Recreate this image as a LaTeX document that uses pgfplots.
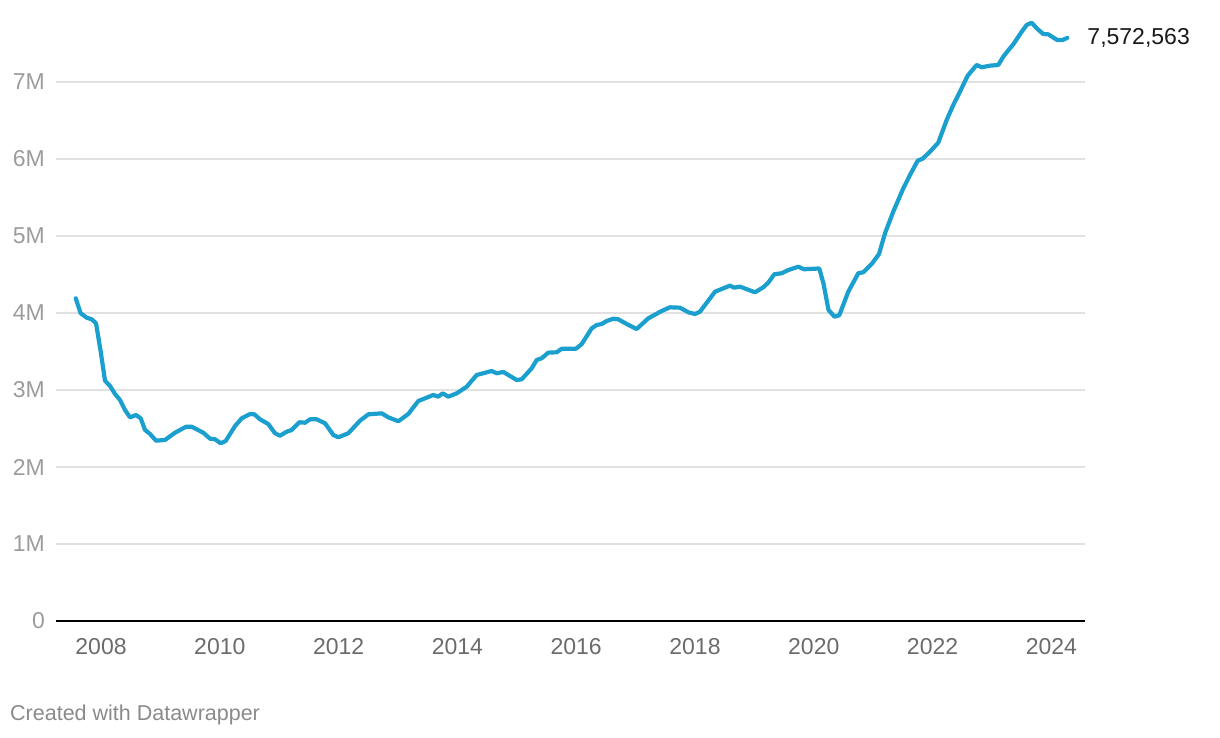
\documentclass[border=0pt]{standalone}
\usepackage{pgfplots}
\pgfplotsset{compat=1.18}
\usepackage{fontspec}
\setmainfont{Liberation Sans}
\definecolor{linec}{HTML}{1A9FCE}
\definecolor{ylab}{HTML}{9C9C9C}
\definecolor{xlab}{HTML}{6B6B6B}
\definecolor{gridc}{HTML}{E1E1E1}
\definecolor{foot}{HTML}{8A8A8A}
\begin{document}
\begin{tikzpicture}
\useasboundingbox (0,0) rectangle (1220pt,738pt);
\begin{axis}[
  at={(56pt,117pt)}, anchor=south west,
  scale only axis, width=1029pt, height=600.6pt,
  xmin=2007.242, xmax=2024.566, ymin=0, ymax=7.8,
  clip=false,
  axis x line=bottom, axis y line=left,
  x axis line style={-, black, line width=2.2pt},
  y axis line style={draw=none},
  major tick length=0pt, tick style={draw=none},
  xtick={2008,2010,2012,2014,2016,2018,2020,2022,2024},
  xticklabels={2008,2010,2012,2014,2016,2018,2020,2022,2024},
  ytick={0,1,2,3,4,5,6,7},
  yticklabels={0,1M,2M,3M,4M,5M,6M,7M},
  ymajorgrids, grid style={gridc, line width=1.6pt},
  xticklabel style={font=\fontsize{23}{27}\selectfont, color=xlab, anchor=north, inner sep=0pt, yshift=-17pt},
  yticklabel style={font=\fontsize{23}{27}\selectfont, color=ylab, anchor=east, inner sep=0pt, xshift=-11pt},
]
\addplot[linec, line width=4.2pt, line join=round, line cap=round] coordinates {
(2007.574,4.191)(2007.658,3.996)(2007.759,3.939)(2007.843,3.918)(2007.916,3.866)
(2007.995,3.497)(2008.067,3.121)(2008.152,3.052)(2008.236,2.948)(2008.320,2.870)
(2008.404,2.740)(2008.488,2.645)(2008.589,2.675)(2008.668,2.632)(2008.741,2.481)
(2008.825,2.429)(2008.926,2.342)(2009.077,2.351)(2009.246,2.445)(2009.431,2.523)
(2009.527,2.523)(2009.722,2.445)(2009.835,2.368)(2009.919,2.360)(2010.015,2.308)
(2010.099,2.338)(2010.256,2.532)(2010.369,2.632)(2010.508,2.688)(2010.581,2.684)
(2010.677,2.619)(2010.816,2.558)(2010.929,2.438)(2011.013,2.406)(2011.126,2.458)
(2011.210,2.481)(2011.338,2.581)(2011.434,2.575)(2011.519,2.619)(2011.631,2.619)
(2011.771,2.568)(2011.911,2.416)(2011.995,2.386)(2012.163,2.438)(2012.360,2.601)
(2012.500,2.684)(2012.726,2.697)(2012.837,2.645)(2013.005,2.594)(2013.173,2.688)
(2013.342,2.857)(2013.594,2.935)(2013.678,2.913)(2013.753,2.957)(2013.847,2.913)
(2013.988,2.957)(2014.157,3.043)(2014.325,3.195)(2014.577,3.247)(2014.662,3.217)
(2014.773,3.234)(2014.857,3.195)(2014.998,3.130)(2015.082,3.139)(2015.251,3.282)
(2015.335,3.390)(2015.419,3.412)(2015.530,3.485)(2015.672,3.490)(2015.756,3.536)
(2015.997,3.536)(2016.093,3.597)(2016.261,3.801)(2016.345,3.844)(2016.429,3.857)
(2016.513,3.896)(2016.625,3.926)(2016.709,3.918)(2016.850,3.857)(2017.018,3.792)
(2017.214,3.931)(2017.439,4.026)(2017.579,4.074)(2017.747,4.069)(2017.887,4.009)
(2018.000,3.987)(2018.084,4.017)(2018.337,4.277)(2018.450,4.312)(2018.589,4.355)
(2018.662,4.329)(2018.758,4.342)(2019.010,4.269)(2019.150,4.334)(2019.234,4.394)
(2019.335,4.503)(2019.460,4.516)(2019.571,4.558)(2019.739,4.601)(2019.835,4.568)
(2020.093,4.578)(2020.163,4.383)(2020.248,4.039)(2020.349,3.952)(2020.429,3.970)
(2020.581,4.277)(2020.749,4.516)(2020.833,4.529)(2020.975,4.636)(2021.098,4.766)
(2021.199,5.035)(2021.338,5.316)(2021.507,5.619)(2021.620,5.792)(2021.749,5.978)
(2021.833,6.004)(2021.956,6.095)(2022.096,6.212)(2022.237,6.506)(2022.348,6.701)
(2022.461,6.874)(2022.591,7.082)(2022.742,7.221)(2022.826,7.191)(2022.966,7.212)
(2023.106,7.221)(2023.190,7.329)(2023.303,7.438)(2023.359,7.490)(2023.500,7.653)
(2023.584,7.740)(2023.668,7.770)(2023.753,7.697)(2023.864,7.623)(2023.948,7.619)
(2024.099,7.545)(2024.190,7.545)(2024.268,7.572563)
};
\node[anchor=west, inner sep=0pt, xshift=20pt, font=\fontsize{23}{27}\selectfont, text={black!90}] at (axis cs:2024.268,7.572563) {7,572,563};
\end{axis}
\node[anchor=base west, inner sep=0pt, font=\fontsize{21.5}{25}\selectfont, text=foot] at (10pt,17pt) {Created with Datawrapper};
\end{tikzpicture}
\end{document}
